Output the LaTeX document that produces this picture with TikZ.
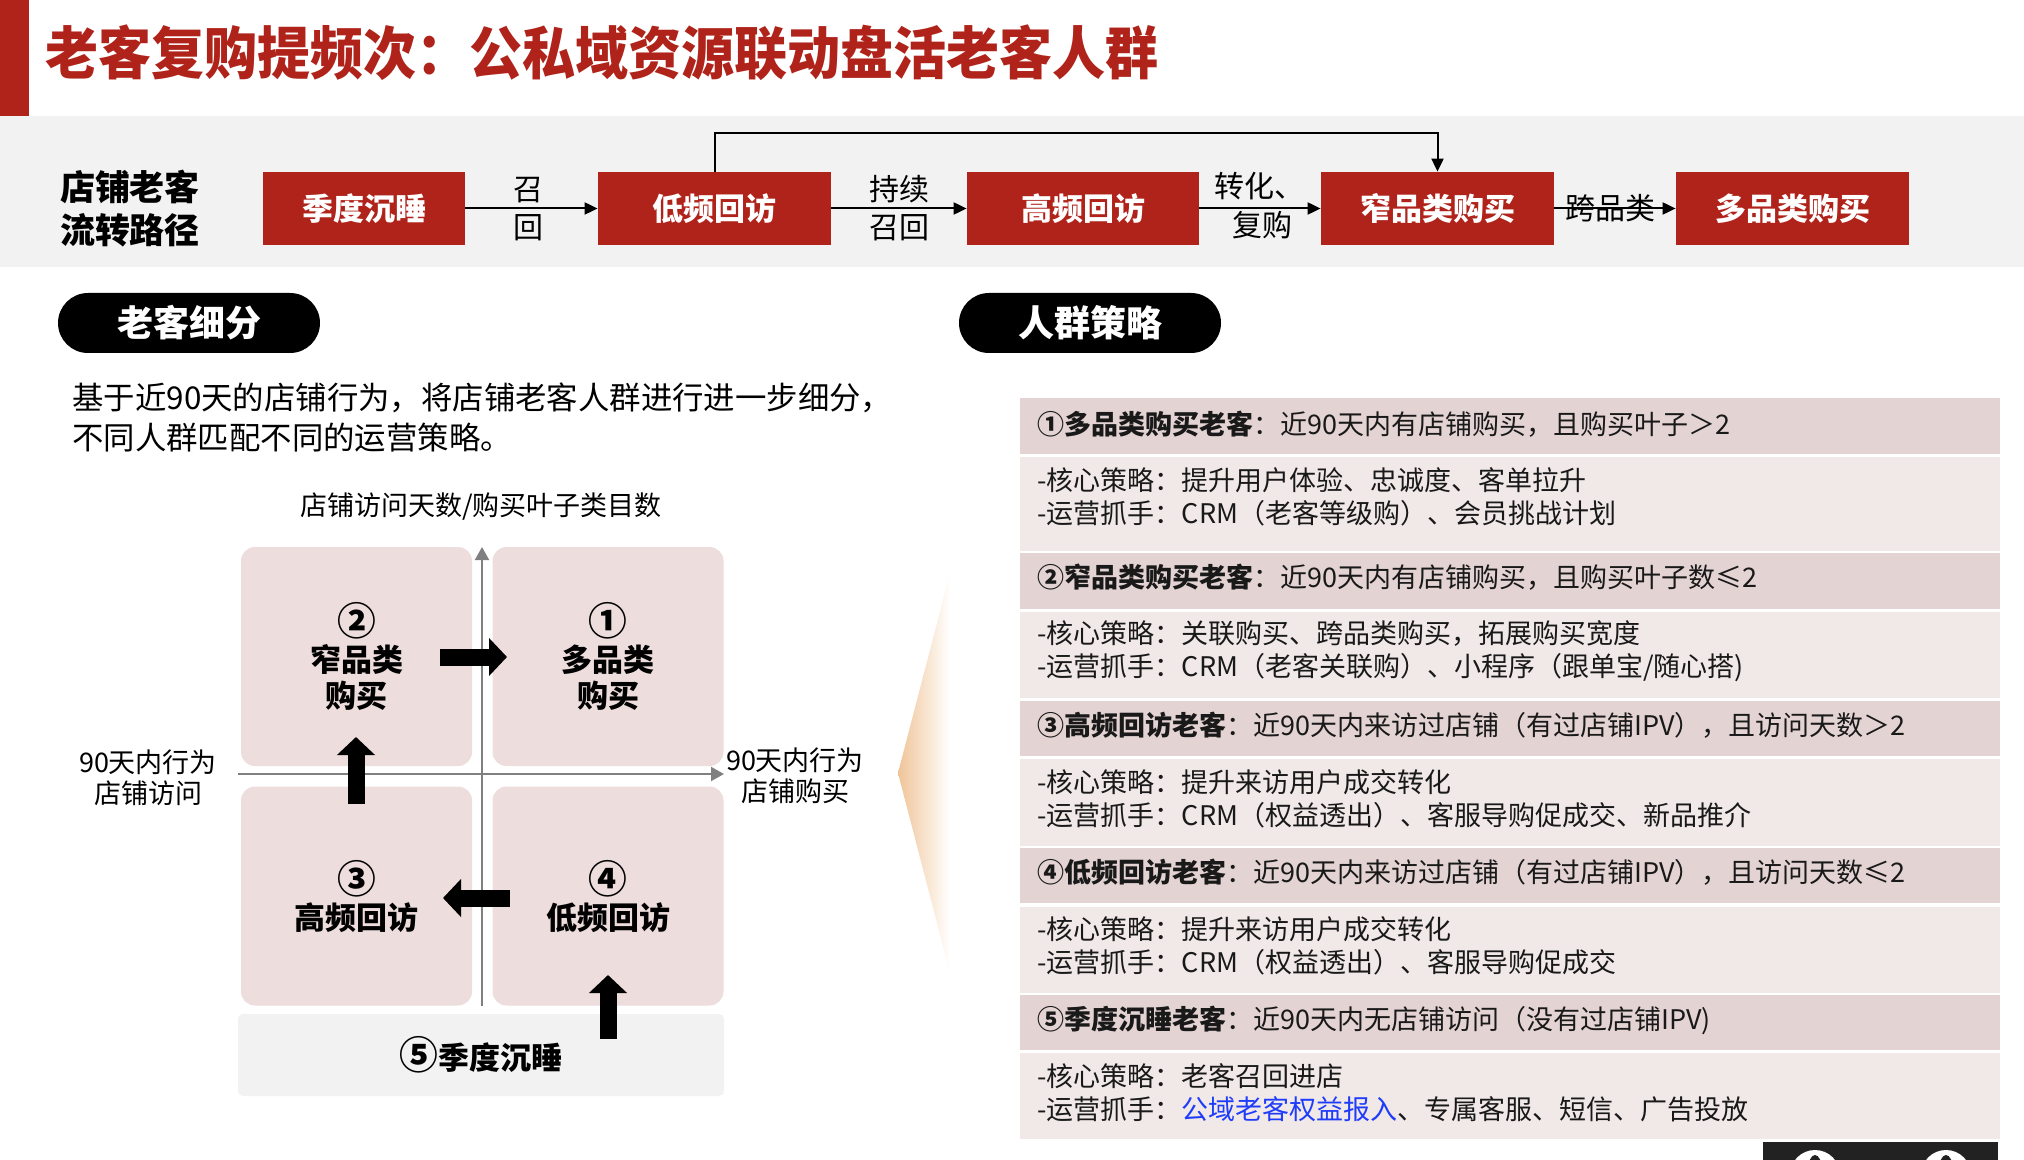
\documentclass[tikz,border=0pt]{standalone}
\usepackage{fontspec}
\setmainfont{Noto Sans CJK SC}
\newfontfamily\heavy{Noto Sans CJK SC Black}
\usetikzlibrary{arrows.meta}
\definecolor{myred}{RGB}{176,35,26}
\definecolor{bandgray}{RGB}{242,242,242}
\definecolor{quadpink}{RGB}{238,221,221}
\definecolor{hdrpink}{RGB}{228,211,211}
\definecolor{bodypink}{RGB}{241,232,232}
\definecolor{axisgray}{RGB}{128,128,128}
\definecolor{txtdark}{RGB}{25,25,25}
\definecolor{linkblue}{RGB}{30,60,250}
\definecolor{warmorange}{RGB}{240,196,152}
\definecolor{logoblack}{RGB}{34,34,34}
\newcommand{\bignum}[1]{\scalebox{1.25}{#1}}
\begin{document}
\begin{tikzpicture}[x=0.5pt,y=-0.5pt,
  redbox/.style={fill=myred, text=white, font=\fontsize{15.5pt}{18pt}\heavy, minimum height=36.5pt, inner sep=0pt},
  flowarrow/.style={line width=1pt, -{Triangle[length=6.5pt,width=6pt]}},
  flowlabel/.style={font=\fontsize{15pt}{18pt}\selectfont, inner sep=0pt},
  pill/.style={fill=black, text=white, rounded corners=15pt, minimum width=131pt, minimum height=30pt, font=\fontsize{18pt}{20pt}\heavy, inner sep=0pt},
  quad/.style={fill=quadpink, rounded corners=7pt, minimum width=115.5pt, minimum height=109.5pt, inner sep=0pt, align=center, font=\fontsize{15.5pt}{18pt}\heavy},
  axisline/.style={draw=axisgray, line width=1pt, -{Triangle[length=6.5pt,width=7pt]}},
  blockarrow/.style={line width=8.5pt, -{Triangle[length=9pt,width=18.5pt]}},
  hdrtext/.style={anchor=west, inner sep=0pt, font=\fontsize{13.5pt}{16pt}\selectfont, text=txtdark},
  bodytext/.style={anchor=west, inner sep=0pt, align=left, font=\fontsize{13.5pt}{16.5pt}\selectfont, text=txtdark},
  plain/.style={inner sep=0pt, align=center, font=\fontsize{13.5pt}{15.5pt}\selectfont}
]
\useasboundingbox (0,0) rectangle (2024,1160);
\fill[white] (0,0) rectangle (2024,1160);

% title band
\fill[myred] (0,0) rectangle (29,116);
\node[anchor=west, inner sep=0pt, text=myred, font=\fontsize{26.5pt}{30pt}\heavy] (title) at (45,53) {\scalebox{1}[1.08]{老客复购提频次：公私域资源联动盘活老客人群}};

% flow band
\fill[bandgray] (0,116) rectangle (2024,267);
\node[inner sep=0pt, align=center, font=\fontsize{17.5pt}{21.5pt}\heavy] (flowtitle) at (130,208.5) {店铺老客\\流转路径};

\node[redbox, minimum width=101pt] (sleep) at (364,208.5) {季度沉睡};
\node[redbox, minimum width=116.5pt] (low) at (714.5,208.5) {低频回访};
\node[redbox, minimum width=116pt] (high) at (1083,208.5) {高频回访};
\node[redbox, minimum width=116.5pt] (narrow) at (1437.5,208.5) {窄品类购买};
\node[redbox, minimum width=116.5pt] (multi) at (1792.5,208.5) {多品类购买};

\draw[flowarrow] (sleep.east) -- (low.west);
\draw[flowarrow] (low.east) -- (high.west);
\draw[flowarrow] (high.east) -- (narrow.west);
\draw[flowarrow] (narrow.east) -- (multi.west);
\draw[flowarrow] (low.north) -- ++(0,-39) -| (narrow.north);

\node[flowlabel] (l1a) at (528,190) {召};
\node[flowlabel] (l1b) at (528,228) {回};
\node[flowlabel] (l2a) at (899,189) {持续};
\node[flowlabel] (l2b) at (899,228) {召回};
\node[flowlabel, anchor=west] (l3a) at (1214,186) {转化、};
\node[flowlabel, anchor=west] (l3b) at (1232,225) {复购};
\node[flowlabel] (l4) at (1610,208) {跨品类};

% section pills
\node[pill] (pillA) at (189,323) {老客细分};
\node[pill] (pillB) at (1090,323) {人群策略};

\node[anchor=west, inner sep=0pt, align=left, font=\fontsize{15.7pt}{20pt}\selectfont] (desc) at (72,417) {基于近90天的店铺行为，将店铺老客人群进行进一步细分，\\不同人群匹配不同的运营策略。};

% quadrant
\node[plain] (axtitle) at (481,507) {店铺访问天数/购买叶子类目数};
\node[quad] (q2) at (356.5,656.5) {\bignum{②}\\窄品类\\购买};
\node[quad] (q1) at (608,656.5) {\bignum{①}\\多品类\\购买};
\node[quad] (q3) at (356.5,896) {\bignum{③}\\高频回访};
\node[quad] (q4) at (608,896) {\bignum{④}\\低频回访};
\node[fill=bandgray, rounded corners=2.5pt, minimum width=243pt, minimum height=41pt, inner sep=0pt, font=\fontsize{15.5pt}{18pt}\heavy] (q5) at (481,1055) {\bignum{⑤}季度沉睡};

\coordinate (vbot) at (482,1006);
\coordinate (vtop) at (482,547);
\coordinate (hleft) at (238,774);
\coordinate (hright) at (724,774);
\draw[axisline] (vbot) -- (vtop);
\draw[axisline] (hleft) -- (hright);

\node[plain] (leftlab) at (148,778) {90天内行为\\店铺访问};
\node[plain] (rightlab) at (795,776) {90天内行为\\店铺购买};

\coordinate (b1s) at (440,657); \coordinate (b1e) at (507,657);
\coordinate (b2s) at (356,804); \coordinate (b2e) at (356,737);
\coordinate (b3s) at (510,898); \coordinate (b3e) at (443,898);
\coordinate (b4s) at (608,1039); \coordinate (b4e) at (608,975);
\draw[blockarrow] (b1s) -- (b1e);
\draw[blockarrow] (b2s) -- (b2e);
\draw[blockarrow] (b3s) -- (b3e);
\draw[blockarrow] (b4s) -- (b4e);

% chevron
\shade[left color=warmorange, right color=white] (898,773) -- (950,573) -- (950,973) -- cycle;

% right panel rows
\fill[hdrpink] (1020,398) rectangle (2000,454);
\fill[bodypink] (1020,457) rectangle (2000,551);
\fill[hdrpink] (1020,553) rectangle (2000,609);
\fill[bodypink] (1020,612) rectangle (2000,698);
\fill[hdrpink] (1020,701) rectangle (2000,756);
\fill[bodypink] (1020,759) rectangle (2000,846);
\fill[hdrpink] (1020,848) rectangle (2000,903);
\fill[bodypink] (1020,907) rectangle (2000,993);
\fill[hdrpink] (1020,995) rectangle (2000,1050);
\fill[bodypink] (1020,1053) rectangle (2000,1139);

\node[hdrtext] (h1) at (1037,424) {{\heavy ①多品类购买老客}：近90天内有店铺购买，且购买叶子＞2};
\node[bodytext] (t1) at (1037,496.5) {-核心策略：提升用户体验、忠诚度、客单拉升\\-运营抓手：CRM（老客等级购）、会员挑战计划};
\node[hdrtext] (h2) at (1037,577) {{\heavy ②窄品类购买老客}：近90天内有店铺购买，且购买叶子数≤2};
\node[bodytext] (t2) at (1037,651.5) {-核心策略：关联购买、跨品类购买，拓展购买宽度\\-运营抓手：CRM（老客关联购）、小程序（跟单宝/随心搭)};
\node[hdrtext] (h3) at (1037,725) {{\heavy ③高频回访老客}：近90天内来访过店铺（有过店铺IPV），且访问天数＞2};
\node[bodytext] (t3) at (1037,799) {-核心策略：提升来访用户成交转化\\-运营抓手：CRM（权益透出）、客服导购促成交、新品推介};
\node[hdrtext] (h4) at (1037,872) {{\heavy ④低频回访老客}：近90天内来访过店铺（有过店铺IPV），且访问天数≤2};
\node[bodytext] (t4) at (1037,946) {-核心策略：提升来访用户成交转化\\-运营抓手：CRM（权益透出）、客服导购促成交};
\node[hdrtext] (h5) at (1037,1020) {{\heavy ⑤季度沉睡老客}：近90天内无店铺访问（没有过店铺IPV)};
\node[bodytext] (t5) at (1037,1092.5) {-核心策略：老客召回进店\\-运营抓手：{\color{linkblue}公域老客权益报入}、专属客服、短信、广告投放};

% logo fragment
\begin{scope}
\clip (1763,1142) rectangle (1998,1160);
\fill[logoblack] (1763,1142) rectangle (1998,1160);
\fill[white] (1815,1175) circle[radius=25];
\fill[logoblack] (1815,1170) ellipse[x radius=7, y radius=15];
\fill[white] (1946,1175) circle[radius=25];
\fill[logoblack] (1946,1170) ellipse[x radius=7, y radius=15];
\end{scope}
\end{tikzpicture}
\end{document}
